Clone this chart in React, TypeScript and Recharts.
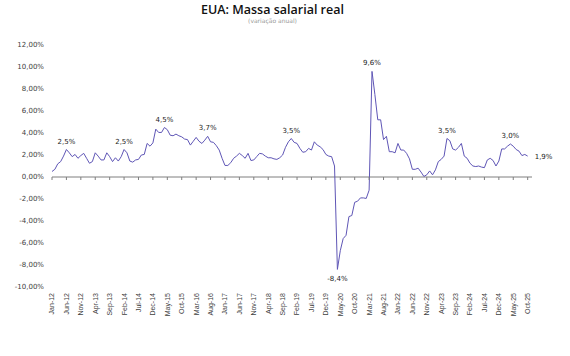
import React from 'react';
import { LineChart, Line, XAxis, YAxis, ReferenceLine, LabelList } from 'recharts';

const TITLE = 'EUA: Massa salarial real';
const SUBTITLE = '(variação anual)';

// monthly values Jan-12 .. Oct-25 (% a/a)
const values: number[] = [
  0.5, 0.7, 1.2, 1.4, 1.9, 2.5, 2.2, 1.85, 2.05, 1.7,
  1.95, 2.15, 1.7, 1.25, 1.4, 2.2, 1.9, 1.55, 1.55, 2.2,
  1.85, 1.4, 1.75, 1.45, 1.85, 2.5, 2.2, 1.45, 1.35, 1.55,
  1.6, 2.0, 2.05, 3.05, 2.8, 3.1, 4.35, 4.05, 4.05, 4.5,
  4.3, 3.8, 3.75, 3.9, 3.75, 3.65, 3.45, 3.4, 2.9, 3.25,
  3.6, 3.25, 3.05, 3.35, 3.7, 3.2, 3.15, 2.85, 2.45, 1.7,
  1.05, 1.05, 1.3, 1.7, 1.9, 2.15, 1.95, 1.7, 2.15, 1.5,
  1.55, 1.85, 2.15, 2.1, 1.9, 1.75, 1.75, 1.65, 1.6, 1.75,
  2.0, 2.7, 3.2, 3.5, 3.15, 3.05, 2.6, 2.25, 2.3, 2.6,
  2.45, 3.2, 2.9, 2.75, 2.5, 2.05, 1.9, 1.85, 1.0, -8.4,
  -6.7, -5.6, -5.3, -3.6, -3.5, -2.3, -2.2, -1.9, -1.9, -1.95,
  -1.2, 9.6, 7.5, 5.2, 5.2, 3.4, 3.7, 2.3, 2.3, 2.2,
  3.05, 2.45, 2.45, 2.15, 1.65, 0.7, 0.7, 0.8, 0.45, 0.05,
  0.2, 0.55, 0.2, 0.65, 1.4, 1.6, 1.9, 3.5, 3.3, 2.55,
  2.45, 2.7, 3.05, 1.9, 1.7, 1.25, 1.0, 0.95, 1.0, 0.9,
  0.85, 1.55, 1.7, 1.5, 1.0, 1.45, 2.55, 2.55, 2.8, 3.0,
  2.8, 2.5, 2.35, 1.95, 2.05, 1.9,
];

// every 5th month
const tickLabels: string[] = [
  'Jan-12', 'Jun-12', 'Nov-12', 'Apr-13', 'Sep-13', 'Feb-14', 'Jul-14', 'Dec-14',
  'May-15', 'Oct-15', 'Mar-16', 'Aug-16', 'Jan-17', 'Jun-17', 'Nov-17', 'Apr-18',
  'Sep-18', 'Feb-19', 'Jul-19', 'Dec-19', 'May-20', 'Oct-20', 'Mar-21', 'Aug-21',
  'Jan-22', 'Jun-22', 'Nov-22', 'Apr-23', 'Sep-23', 'Feb-24', 'Jul-24', 'Dec-24',
  'May-25', 'Oct-25',
];
const TICK_STEP = 5;

const yTicks: number[] = [-10, -8, -6, -4, -2, 0, 2, 4, 6, 8, 10, 12];

// indices of points that carry a data label
const labeledIndexes: number[] = [5, 25, 39, 54, 83, 99, 111, 137, 159, 165];

const data = values.map((v, i) => ({ i, v }));
const xTicks = tickLabels.map((_, k) => k * TICK_STEP);

const W = 570;
const H = 356;
const MARGIN = { top: 45, right: 38, bottom: 0, left: 8 };
const X_AXIS_H = 69;
const Y_MIN = -10;
const Y_MAX = 12;
const plotH = H - MARGIN.top - MARGIN.bottom - X_AXIS_H;
const zeroY = MARGIN.top + (Y_MAX / (Y_MAX - Y_MIN)) * plotH;

const LINE_COLOR = '#5f56b6';
const AXIS_COLOR = '#7f7f7f';
const FONT = '"DejaVu Sans", sans-serif';

const fmtPct2 = (v: number) => v.toFixed(2).replace('.', ',') + '%';
const fmtPct1 = (v: number) => v.toFixed(1).replace('.', ',') + '%';

const XTick = (props: any) => {
  const { x, y, payload } = props;
  const k = Math.round(payload.value / TICK_STEP);
  const label = tickLabels[k] ?? '';
  return (
    <g>
      <line x1={x} x2={x} y1={zeroY} y2={zeroY + 3} stroke={AXIS_COLOR} strokeWidth={1} />
      <text
        x={x}
        y={y}
        transform={`rotate(-90 ${x} ${y})`}
        textAnchor="end"
        dy="0.35em"
        fontSize={7}
        fontFamily='"Liberation Sans", Arial, sans-serif'
        fill="#404040"
      >
        {label}
      </text>
    </g>
  );
};

const PointLabel = (props: any) => {
  const { x, y, value, index } = props;
  if (!labeledIndexes.includes(index)) return null;
  const txt = fmtPct1(value);
  const isLast = index === values.length - 1;
  if (isLast) {
    return (
      <text x={x + 7} y={y} dy="0.35em" textAnchor="start" fontSize={7} fontFamily={FONT} fill="#222">
        {txt}
      </text>
    );
  }
  if (value < 0) {
    return (
      <text x={x} y={y + 12} textAnchor="middle" fontSize={7} fontFamily={FONT} fill="#222">
        {txt}
      </text>
    );
  }
  return (
    <text x={x} y={y - 6} textAnchor="middle" fontSize={7} fontFamily={FONT} fill="#222">
      {txt}
    </text>
  );
};

export default function App() {
  return (
    <div style={{ position: 'absolute', left: 0, top: 0, width: W, height: H, background: '#fff' }}>
      <div
        style={{
          position: 'absolute',
          left: 0,
          top: 2,
          width: 545,
          textAlign: 'center',
          fontFamily: '"Open Sans", sans-serif',
          fontWeight: 600,
          fontSize: 12.5,
          color: '#111',
          lineHeight: '16px',
        }}
      >
        {TITLE}
      </div>
      <div
        style={{
          position: 'absolute',
          left: 0,
          top: 17,
          width: 545,
          textAlign: 'center',
          fontFamily: FONT,
          fontSize: 6,
          color: '#9a9a9a',
          lineHeight: '8px',
        }}
      >
        {SUBTITLE}
      </div>
      <LineChart width={W} height={H} data={data} margin={MARGIN}>
        <XAxis
          dataKey="i"
          type="number"
          domain={[0, 166.5]}
          ticks={xTicks}
          interval={0}
          tick={<XTick />}
          axisLine={false}
          tickLine={false}
          tickSize={0}
          tickMargin={6}
          height={X_AXIS_H}
          allowDataOverflow
        />
        <YAxis
          type="number"
          domain={[Y_MIN, Y_MAX]}
          ticks={yTicks}
          interval={0}
          tickFormatter={fmtPct2}
          axisLine={false}
          tickLine={false}
          tickSize={0}
          tickMargin={8}
          width={44}
          tick={{ fontSize: 7, fontFamily: FONT, fill: '#404040' }}
        />
        <ReferenceLine y={0} stroke={AXIS_COLOR} strokeWidth={1} />
        <Line
          type="linear"
          dataKey="v"
          stroke={LINE_COLOR}
          strokeWidth={1}
          dot={false}
          activeDot={false}
          isAnimationActive={false}
        >
          <LabelList dataKey="v" content={<PointLabel />} />
        </Line>
      </LineChart>
    </div>
  );
}
